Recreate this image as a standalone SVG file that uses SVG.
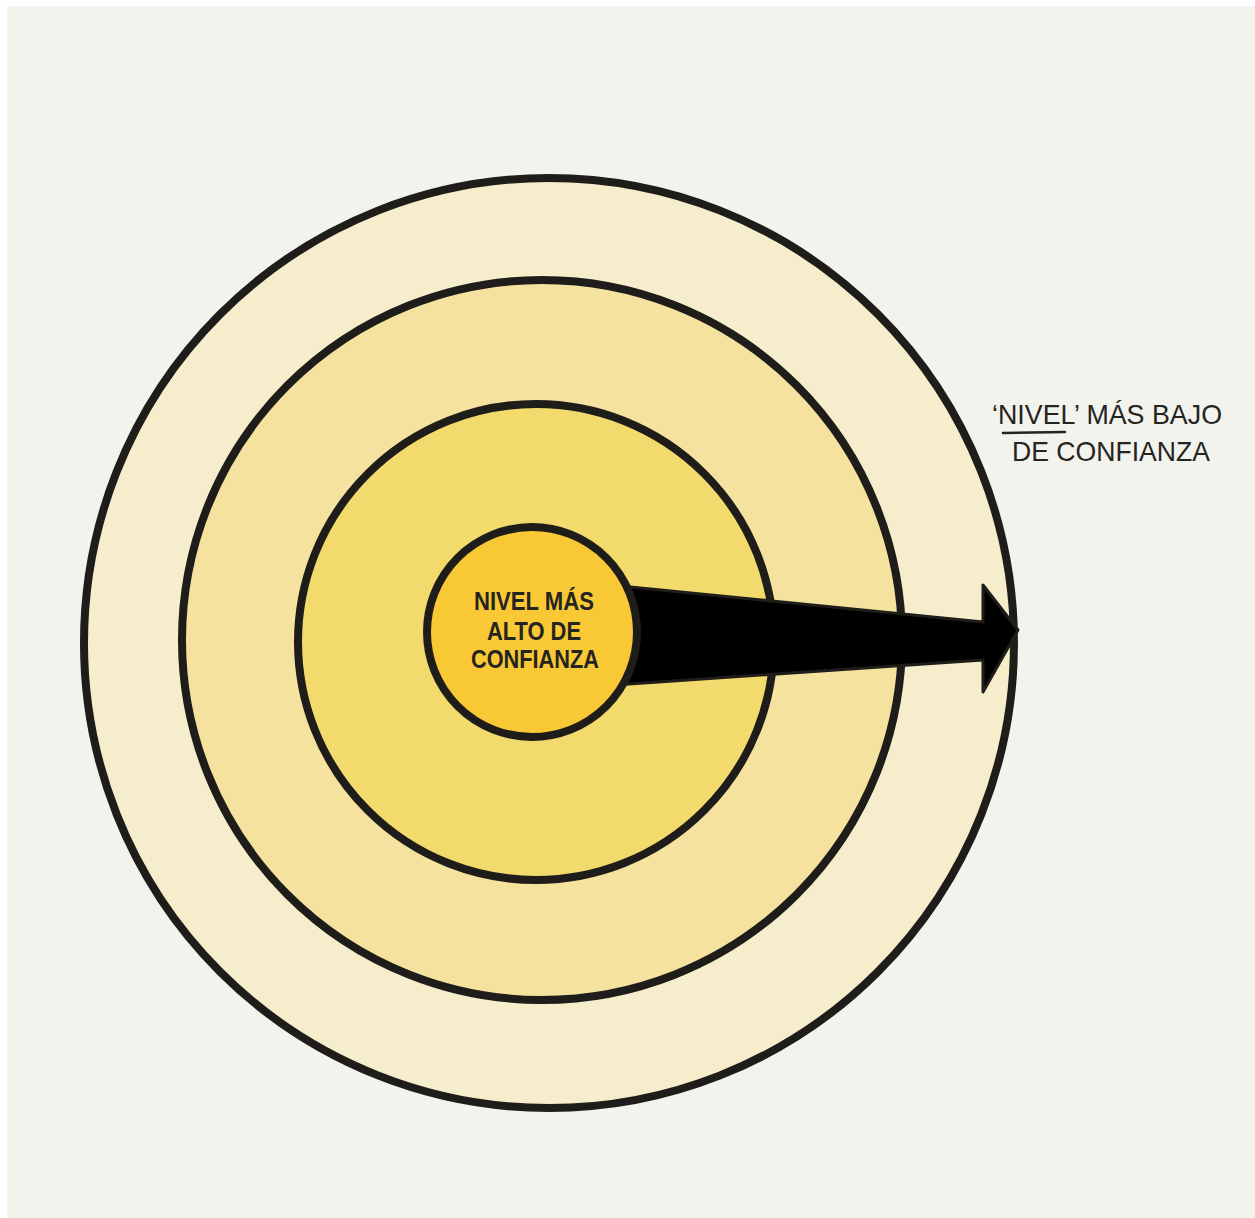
<svg xmlns="http://www.w3.org/2000/svg" width="1255" height="1218" viewBox="0 0 1255 1218">
<style>
.ring{stroke:#1f1d1a;stroke-width:8}
.lbl{font-family:"Liberation Sans",Arial,sans-serif;fill:#262421;text-anchor:middle}
</style>
<rect x="0" y="0" width="1255" height="1218" fill="#ffffff"/>
<rect x="7" y="6" width="1248" height="1212" fill="#f3f3ee"/>
<g id="ring-outer"><circle class="ring" cx="549" cy="643" r="465" fill="#f5edcb"/></g>
<g id="ring-2"><circle class="ring" cx="542" cy="640" r="360" fill="#f5e29e"/></g>
<g id="ring-3"><circle class="ring" cx="536" cy="642" r="238" fill="#f3da6c"/></g>
<g id="connectors">
<polygon points="600,584 983,622 983,585 1018,630 983,692 983,660 600,686" fill="#000" stroke="#1f1d1a" stroke-width="3" stroke-linejoin="round"/>
</g>
<g id="center">
<circle class="ring" cx="532" cy="632" r="105" fill="#f9c935"/>
<text class="lbl" x="534" y="610" font-size="26" font-weight="bold" textLength="120" lengthAdjust="spacingAndGlyphs">NIVEL MÁS</text>
<text class="lbl" x="534" y="640" font-size="26" font-weight="bold" textLength="94" lengthAdjust="spacingAndGlyphs">ALTO DE</text>
<text class="lbl" x="535" y="668" font-size="26" font-weight="bold" textLength="128" lengthAdjust="spacingAndGlyphs">CONFIANZA</text>
</g>
<g id="outer-label">
<text class="lbl" x="1107" y="424" font-size="28" textLength="230" lengthAdjust="spacingAndGlyphs">‘NIVEL’ MÁS BAJO</text>
<text class="lbl" x="1111" y="461" font-size="28" textLength="198" lengthAdjust="spacingAndGlyphs">DE CONFIANZA</text>
<line x1="1003" y1="433" x2="1065" y2="432" stroke="#262421" stroke-width="2.5" stroke-linecap="round"/>
</g>
</svg>
